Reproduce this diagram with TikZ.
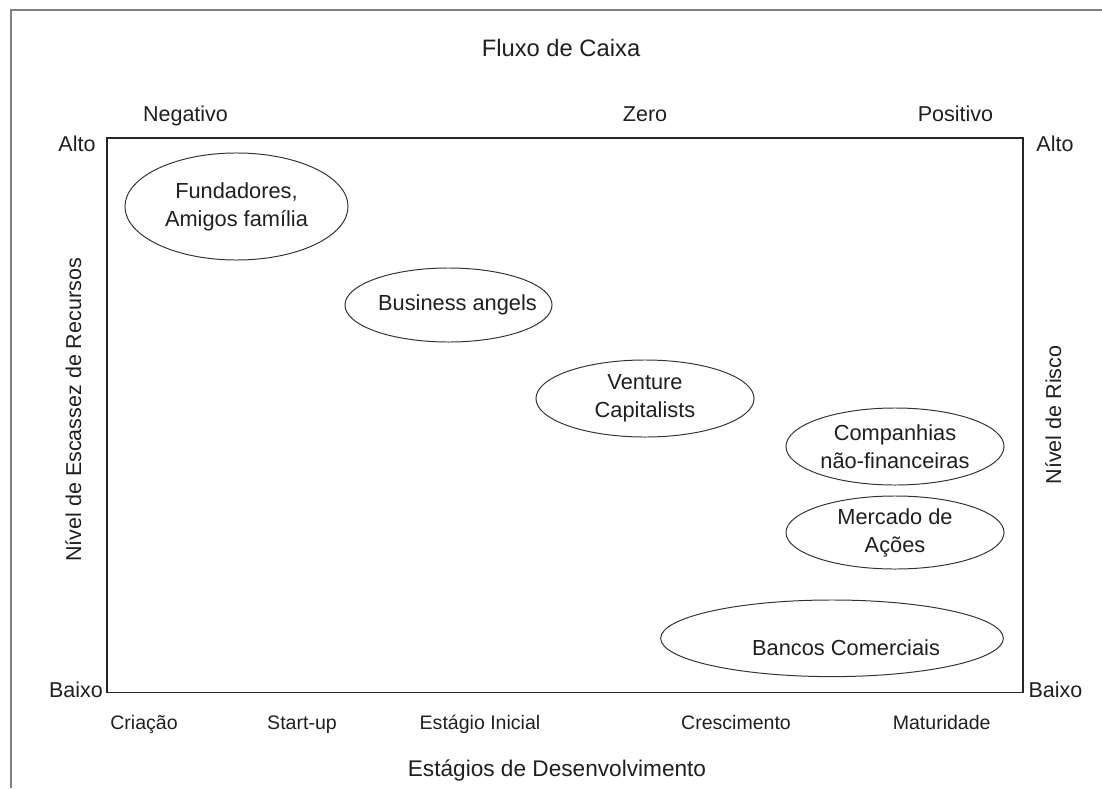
\documentclass[tikz,border=0pt]{standalone}
\usepackage{fontspec}
\setmainfont{Liberation Sans}
\usetikzlibrary{shapes.geometric}
\newcommand{\desloca}[2]{\makebox[0pt][l]{\kern#1\makebox[0pt]{#2}}}
\begin{document}
\begin{tikzpicture}[
    x=0.025cm, y=-0.025cm,
    grupo/.style={draw=black!80, line width=0.7pt, ellipse, inner sep=0pt,
                  align=center, text=black!88, font=\fontsize{15.5}{19.9}\selectfont},
    rotulo/.style={anchor=base, text=black!88, font=\fontsize{15.3}{18}\selectfont},
    estagio/.style={rotulo, font=\fontsize{13.9}{16}\selectfont},
    eixo/.style={rotulo, rotate=90}
  ]
    \useasboundingbox (0,0) rectangle (1102,788);
    \draw[black!50, line width=0.9pt] (11,788) -- (11,10) -- (1102,10);
    \draw[black!85, line width=0.8pt] (107,138) rectangle (1023,692.5);

    \node[rotulo, font=\fontsize{16.9}{20}\selectfont] (fluxo) at (561,57) {Fluxo de Caixa};
    \node[rotulo] (negativo) at (185.5,122) {Negativo};
    \node[rotulo] (zero)     at (645,122)   {Zero};
    \node[rotulo] (positivo) at (955.5,122) {Positivo};
    \node[rotulo] (altoesq)  at (77,152)    {Alto};
    \node[rotulo] (altodir)  at (1055,152)  {Alto};
    \node[rotulo] (baixoesq) at (76,697)    {Baixo};
    \node[rotulo] (baixodir) at (1055.5,697) {Baixo};

    \node[eixo] (escassez) at (81,410)   {Nível de Escassez de Recursos};
    \node[eixo] (risco)    at (1061,415) {Nível de Risco};

    \node[grupo, minimum width=5.575cm, minimum height=2.675cm] (fundadores) at (236.5,206.5)
      {Fundadores,\\Amigos família};
    \node[grupo, minimum width=5.175cm, minimum height=1.85cm] (angels) at (448.5,305)
      {\desloca{6.4pt}{Business angels}};
    \node[grupo, minimum width=5.45cm, minimum height=1.925cm] (venture) at (645,398.5)
      {Venture\\Capitalists};
    \node[grupo, minimum width=5.45cm, minimum height=1.925cm] (companhias) at (895,446.5)
      {Companhias\\não-financeiras};
    \node[grupo, minimum width=5.45cm, minimum height=1.825cm] (mercado) at (895,532.5)
      {Mercado de\\Ações};
    \node[grupo, minimum width=8.565cm, minimum height=1.915cm, text height=24pt, text depth=0pt]
      (bancos) at (832,638.3) {\desloca{10pt}{Bancos Comerciais}};

    \node[estagio] (criacao)     at (144,729)   {Criação};
    \node[estagio] (startup)     at (302,729)   {Start-up};
    \node[estagio] (inicial)     at (480,729)   {Estágio Inicial};
    \node[estagio] (crescimento) at (736,729)   {Crescimento};
    \node[estagio] (maturidade)  at (941.7,729) {Maturidade};
    \node[rotulo, font=\fontsize{16.1}{20}\selectfont] (estagios) at (557,776)
      {Estágios de Desenvolvimento};
  \end{tikzpicture}
\end{document}
